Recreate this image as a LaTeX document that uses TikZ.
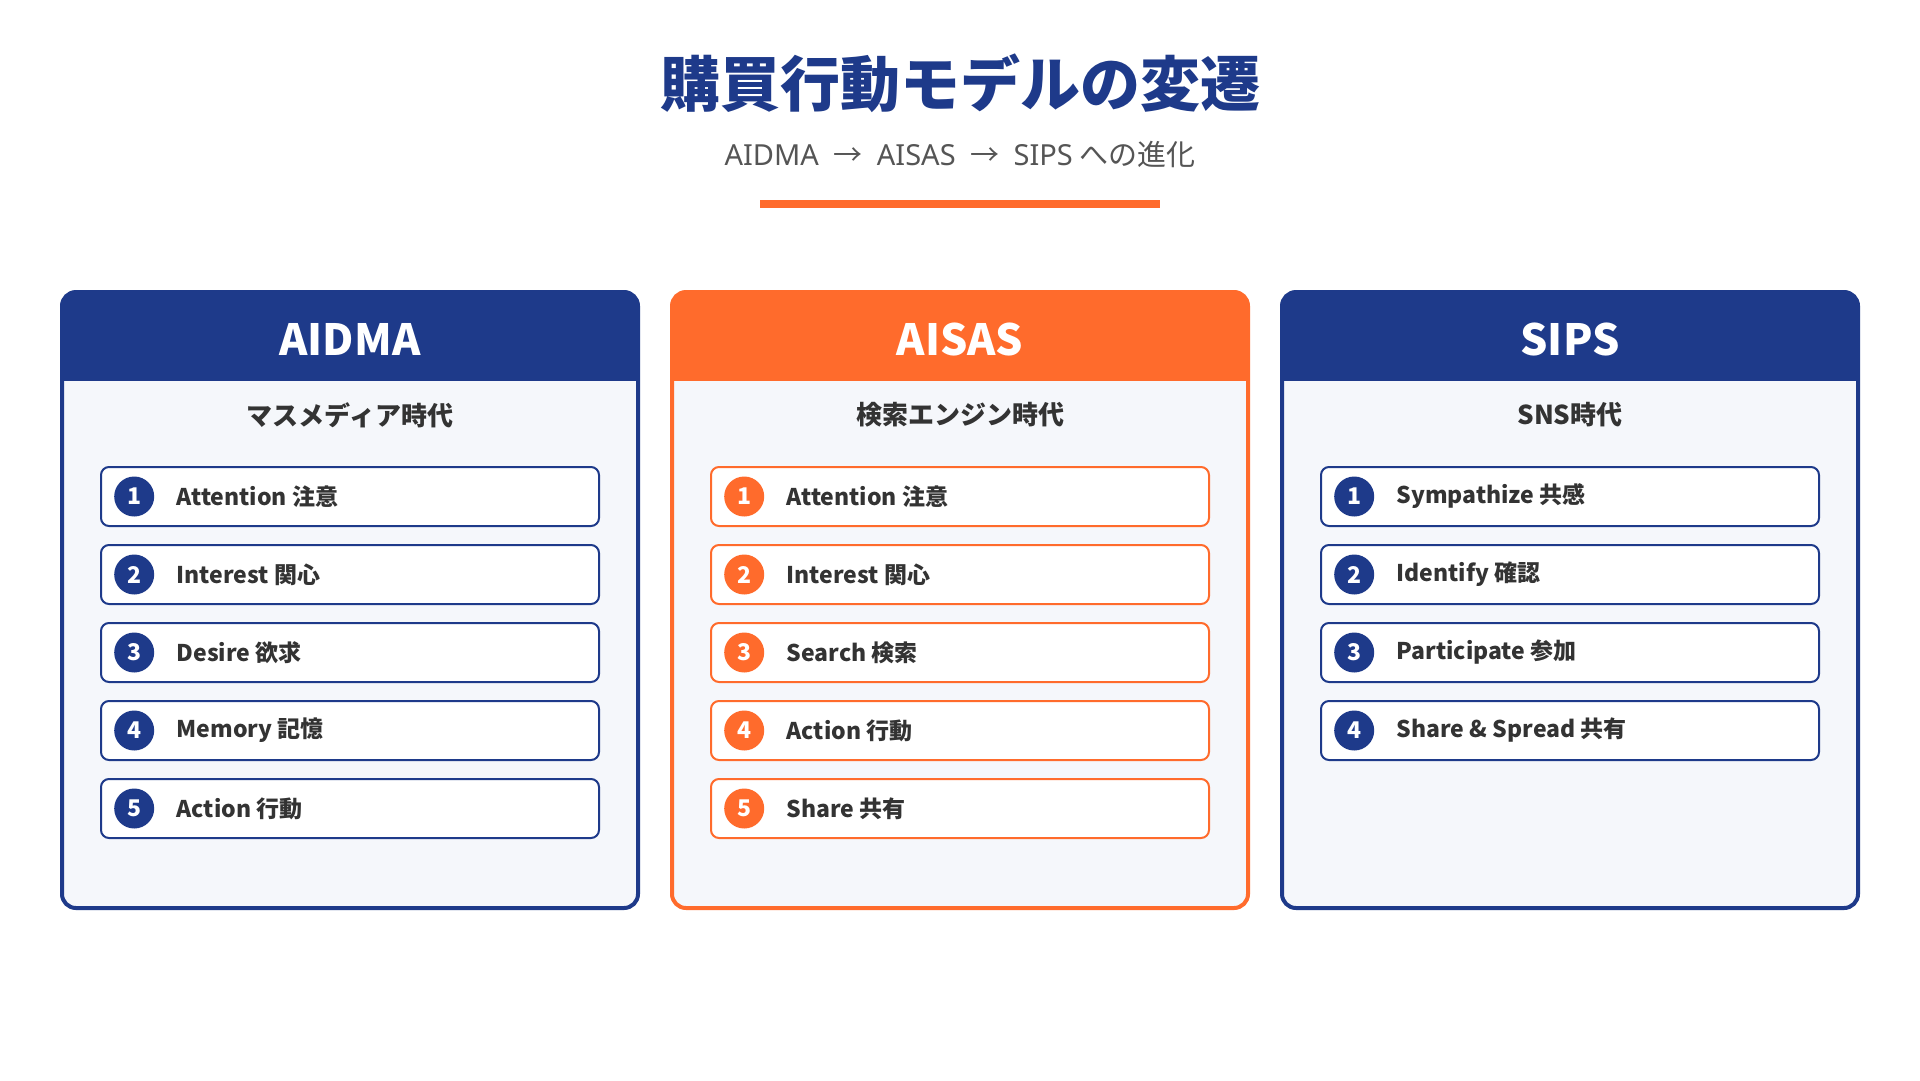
\documentclass[tikz,border=0pt]{standalone}
\usepackage{fontspec}
\setmainfont{Noto Sans CJK JP}
\newfontfamily\latinfont{Noto Sans}
\usetikzlibrary{positioning}

\definecolor{navy}{HTML}{1E3A8A}
\definecolor{accent}{HTML}{FF6B2C}
\definecolor{cardbg}{HTML}{F5F7FB}
\definecolor{ink}{HTML}{333333}
\definecolor{subgray}{HTML}{555555}

\begin{document}
\begin{tikzpicture}[x=1pt,y=-1pt,
    itembox/.style={rectangle, draw, line width=2pt, rounded corners=8pt, fill=white,
      minimum width=498pt, minimum height=59pt, inner sep=0pt},
    numdot/.style={circle, minimum size=40pt, inner sep=0pt, text=white,
      font=\bfseries\fontsize{23}{23}\selectfont},
    itemtext/.style={inner sep=0pt, text=ink, font=\bfseries\fontsize{23}{23}\selectfont},
    cardtitle/.style={inner sep=0pt, text=white, font=\bfseries\fontsize{43}{43}\selectfont},
    cardsub/.style={inner sep=0pt, text=ink, font=\bfseries\fontsize{26}{26}\selectfont}]
      \useasboundingbox[fill=white] (0,0) rectangle (1920,1080);

      \node at(960,83) [inner sep=0pt, text=navy, font=\bfseries\fontsize{60}{60}\selectfont] (title) {購買行動モデルの変遷};
      \node at(960,154) [inner sep=0pt, text=subgray, font=\fontsize{29}{29}\selectfont] (subtitle)
        {{\latinfont AIDMA}\hspace{8pt} → \hspace{8pt}{\latinfont AISAS}\hspace{8pt} → \hspace{8pt}{\latinfont SIPS} への進化};
      \fill[accent] (760,200) rectangle (1160,208);

      % AIDMA
      \begin{scope}
        \clip[rounded corners=14pt] (62,292) rectangle (638,908);
        \fill[cardbg] (62,292) rectangle (638,908);
        \fill[navy] (62,292) rectangle (638,381);
      \end{scope}
      \draw[navy, line width=4pt, rounded corners=14pt] (62,292) rectangle (638,908);
      \node at(350,339) [cardtitle] (aidma) {AIDMA};
      \node at(350,415) [cardsub] (aidma-era) {マスメディア時代};

      \node at(350,496.5) [itembox, draw=navy] (aidma-1) {};
      \node at(350,574.5) [itembox, draw=navy] (aidma-2) {};
      \node at(350,652.5) [itembox, draw=navy] (aidma-3) {};
      \node at(350,730.5) [itembox, draw=navy] (aidma-4) {};
      \node at(350,808.5) [itembox, draw=navy] (aidma-5) {};
      \node [numdot, fill=navy, right=14pt of aidma-1.west] (aidma-n1) {1};
      \node [numdot, fill=navy, right=14pt of aidma-2.west] (aidma-n2) {2};
      \node [numdot, fill=navy, right=14pt of aidma-3.west] (aidma-n3) {3};
      \node [numdot, fill=navy, right=14pt of aidma-4.west] (aidma-n4) {4};
      \node [numdot, fill=navy, right=14pt of aidma-5.west] (aidma-n5) {5};
      \node [itemtext, right=22pt of aidma-n1] (aidma-t1) {Attention 注意};
      \node [itemtext, right=22pt of aidma-n2] (aidma-t2) {Interest 関心};
      \node [itemtext, right=22pt of aidma-n3] (aidma-t3) {Desire 欲求};
      \node [itemtext, right=22pt of aidma-n4] (aidma-t4) {Memory 記憶};
      \node [itemtext, right=22pt of aidma-n5] (aidma-t5) {Action 行動};

      % AISAS
      \begin{scope}
        \clip[rounded corners=14pt] (672,292) rectangle (1248,908);
        \fill[cardbg] (672,292) rectangle (1248,908);
        \fill[accent] (672,292) rectangle (1248,381);
      \end{scope}
      \draw[accent, line width=4pt, rounded corners=14pt] (672,292) rectangle (1248,908);
      \node at(960,339) [cardtitle] (aisas) {AISAS};
      \node at(960,415) [cardsub] (aisas-era) {検索エンジン時代};

      \node at(960,496.5) [itembox, draw=accent] (aisas-1) {};
      \node at(960,574.5) [itembox, draw=accent] (aisas-2) {};
      \node at(960,652.5) [itembox, draw=accent] (aisas-3) {};
      \node at(960,730.5) [itembox, draw=accent] (aisas-4) {};
      \node at(960,808.5) [itembox, draw=accent] (aisas-5) {};
      \node [numdot, fill=accent, right=14pt of aisas-1.west] (aisas-n1) {1};
      \node [numdot, fill=accent, right=14pt of aisas-2.west] (aisas-n2) {2};
      \node [numdot, fill=accent, right=14pt of aisas-3.west] (aisas-n3) {3};
      \node [numdot, fill=accent, right=14pt of aisas-4.west] (aisas-n4) {4};
      \node [numdot, fill=accent, right=14pt of aisas-5.west] (aisas-n5) {5};
      \node [itemtext, right=22pt of aisas-n1] (aisas-t1) {Attention 注意};
      \node [itemtext, right=22pt of aisas-n2] (aisas-t2) {Interest 関心};
      \node [itemtext, right=22pt of aisas-n3] (aisas-t3) {Search 検索};
      \node [itemtext, right=22pt of aisas-n4] (aisas-t4) {Action 行動};
      \node [itemtext, right=22pt of aisas-n5] (aisas-t5) {Share 共有};

      % SIPS
      \begin{scope}
        \clip[rounded corners=14pt] (1282,292) rectangle (1858,908);
        \fill[cardbg] (1282,292) rectangle (1858,908);
        \fill[navy] (1282,292) rectangle (1858,381);
      \end{scope}
      \draw[navy, line width=4pt, rounded corners=14pt] (1282,292) rectangle (1858,908);
      \node at(1570,339) [cardtitle] (sips) {SIPS};
      \node at(1570,415) [cardsub] (sips-era) {SNS時代};

      \node at(1570,496.5) [itembox, draw=navy] (sips-1) {};
      \node at(1570,574.5) [itembox, draw=navy] (sips-2) {};
      \node at(1570,652.5) [itembox, draw=navy] (sips-3) {};
      \node at(1570,730.5) [itembox, draw=navy] (sips-4) {};
      \node [numdot, fill=navy, right=14pt of sips-1.west] (sips-n1) {1};
      \node [numdot, fill=navy, right=14pt of sips-2.west] (sips-n2) {2};
      \node [numdot, fill=navy, right=14pt of sips-3.west] (sips-n3) {3};
      \node [numdot, fill=navy, right=14pt of sips-4.west] (sips-n4) {4};
      \node [itemtext, right=22pt of sips-n1] (sips-t1) {Sympathize 共感};
      \node [itemtext, right=22pt of sips-n2] (sips-t2) {Identify 確認};
      \node [itemtext, right=22pt of sips-n3] (sips-t3) {Participate 参加};
      \node [itemtext, right=22pt of sips-n4] (sips-t4) {Share \& Spread 共有};
\end{tikzpicture}
\end{document}
